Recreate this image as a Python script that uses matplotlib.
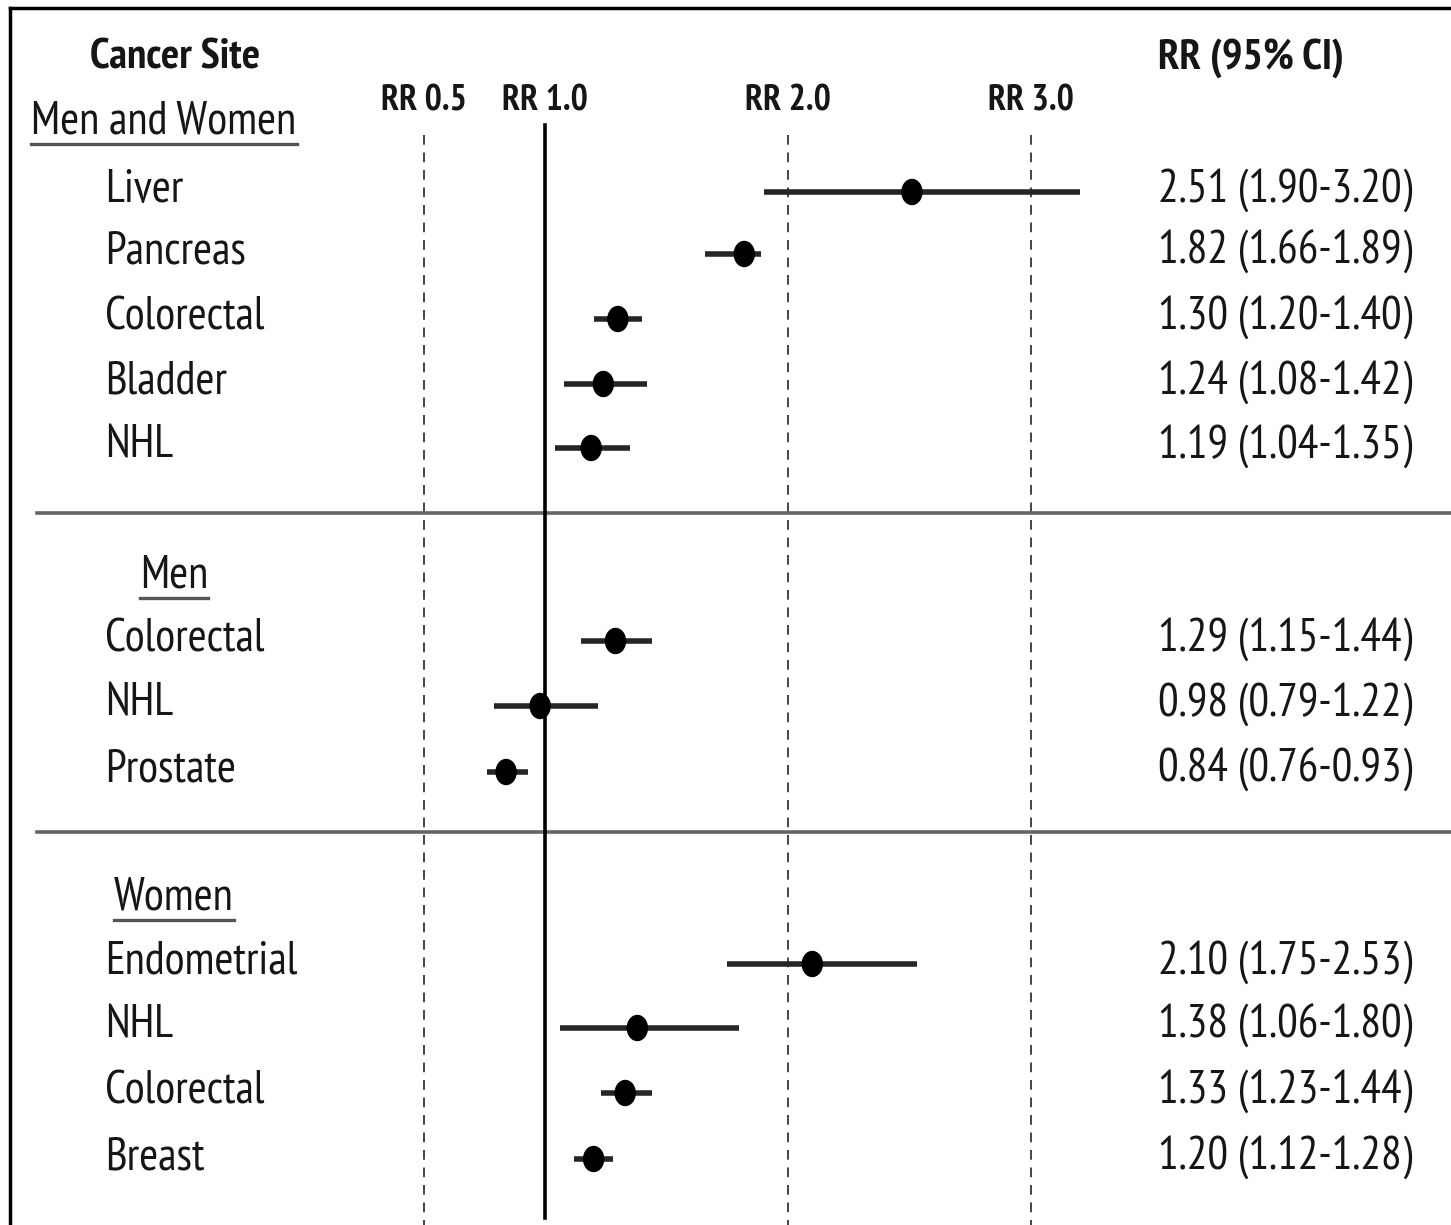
import matplotlib
matplotlib.use("Agg")
import matplotlib.pyplot as plt
from matplotlib.patches import Ellipse

plt.rcParams['font.family'] = ['PT Sans Narrow', 'DejaVu Sans']

# relative risks and 95% CIs by group
all_sites = ["Liver", "Pancreas", "Colorectal", "Bladder", "NHL"]
all_rr = [2.51, 1.82, 1.30, 1.24, 1.19]
all_lo = [1.90, 1.66, 1.20, 1.08, 1.04]
all_hi = [3.20, 1.89, 1.40, 1.42, 1.35]

men_sites = ["Colorectal", "NHL", "Prostate"]
men_rr = [1.29, 0.98, 0.84]
men_lo = [1.15, 0.79, 0.76]
men_hi = [1.44, 1.22, 0.93]

women_sites = ["Endometrial", "NHL", "Colorectal", "Breast"]
women_rr = [2.10, 1.38, 1.33, 1.20]
women_lo = [1.75, 1.06, 1.23, 1.12]
women_hi = [2.53, 1.80, 1.44, 1.28]

ref_lines = [0.5, 1.0, 2.0, 3.0]

W, H = 1451, 1225
fig = plt.figure(figsize=(W / 100, H / 100), dpi=100)
ax = fig.add_axes([0, 0, 1, 1])
# x in RR units (1.0 at px 545, 243 px per unit), y in pixel rows from the top
px_unit = 243.0
x0 = 1 - 545 / px_unit
ax.set_xlim(x0, x0 + W / px_unit)
ax.set_ylim(H, 0)
ax.axis("off")

def px(xp):
    return x0 + xp / px_unit

FS = 33
ink = "#161616"

# frame (top and left edges)
ax.plot([px(10), px(W)], [8, 8], color="black", lw=2.5)
ax.plot([px(10), px(10)], [8, H], color="black", lw=2.5)

# reference lines
for r in ref_lines:
    if r == 1.0:
        ax.plot([r, r], [125, 1218], color="black", lw=2.6, zorder=2)
    else:
        ax.plot([r, r], [135, H], color="#444444", lw=1.4, ls=(0, (5, 4)), zorder=1)
    ax.text(r, 101, f"RR {r:.1f}", ha="center", va="center", fontsize=26,
            fontweight="bold", color=ink)

# section separators
for ys in [513, 832]:
    ax.plot([px(37), px(W)], [ys, ys], color="#666666", lw=2.6, zorder=1)

ax.text(px(175), 58, "Cancer Site", ha="center", va="center", fontsize=31,
        fontweight="bold", color=ink)
ax.text(px(1158), 58, "RR (95% CI)", ha="left", va="center", fontsize=31,
        fontweight="bold", color=ink)

headers = [("Men and Women", 164, 122), ("Men", 174, 576), ("Women", 174, 898)]
header_texts = []
for label, xc, yc in headers:
    t = ax.text(px(xc), yc, label, ha="center", va="center", fontsize=FS, color=ink)
    header_texts.append(t)

groups = [
    (all_sites, all_rr, all_lo, all_hi, [190, 252, 317, 382, 446]),
    (men_sites, men_rr, men_lo, men_hi, [639, 704, 770]),
    (women_sites, women_rr, women_lo, women_hi, [962, 1026, 1091, 1157]),
]

for sites, rr, lo, hi, ys in groups:
    for name, r, l, h, y in zip(sites, rr, lo, hi, ys):
        ax.text(px(105), y, name, ha="left", va="center", fontsize=FS, color=ink)
        ax.text(px(1158), y, f"{r:.2f} ({l:.2f}-{h:.2f})", ha="left", va="center",
                fontsize=FS, color=ink)
        ax.plot([l, h], [y + 2, y + 2], color="#262626", lw=4.0, solid_capstyle="butt", zorder=3)
        ax.add_patch(Ellipse((r, y + 2), 20 / px_unit, 25, color="black", zorder=4))

# underline the group headers
fig.canvas.draw()
renderer = fig.canvas.get_renderer()
inv = ax.transData.inverted()
for t in header_texts:
    bb = t.get_window_extent(renderer)
    (xa, yb), (xb, _) = inv.transform([[bb.x0, bb.y0], [bb.x1, bb.y0]])
    ax.plot([xa, xb], [yb + 1, yb + 1], color="#555555", lw=2.4)

fig.savefig("out.png", dpi=100)
